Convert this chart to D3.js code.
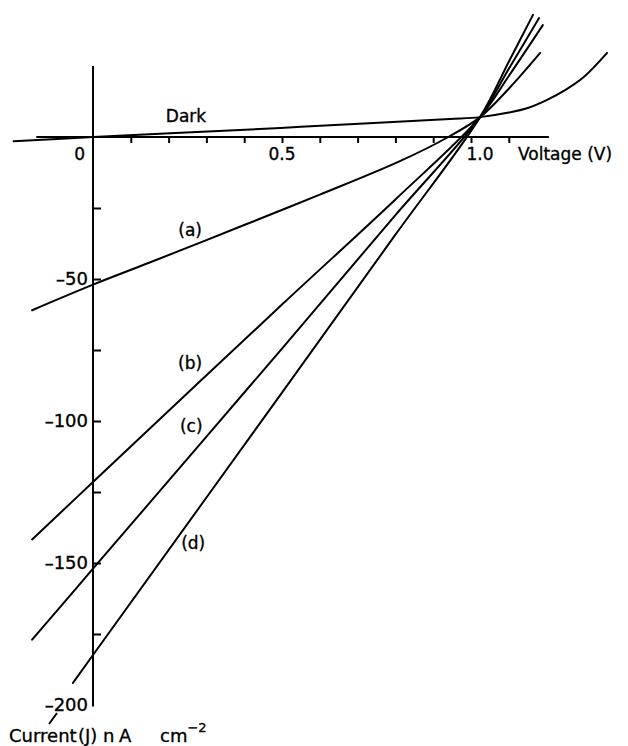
<!DOCTYPE html>
<html>
<head>
<meta charset="utf-8">
<script src="https://cdn.jsdelivr.net/npm/d3@7"></script>
<style>
  html, body { margin: 0; padding: 0; background: #fff; }
  svg text { font-family: "DejaVu Sans", sans-serif; fill: #000; stroke: #000; stroke-width: 0.35; }
  .curve { fill: none; stroke: #000; stroke-width: 2; stroke-linecap: round; }
  .axis-line { stroke: #000; stroke-width: 2; }
  .tick line { stroke: #000; stroke-width: 2; }
</style>
</head>
<body>
<div id="chart"></div>
<script>
// values, voltage in V, current in nA cm^-2
var darkV = [-0.21, 0, 0.44, 0.55, 0.944, 1.024, 1.1, 1.15, 1.2, 1.25, 1.3, 1.36];
var darkJ = [-1.5, 0, 2.8, 3.6, 6.3, 7.0, 8.6, 10.2, 13.0, 16.6, 21.3, 29.6];

var aV = [-0.161, 0, 0.15, 0.4, 0.6, 0.812, 0.94, 1.024, 1.1, 1.183];
var aJ = [-61, -52, -44.2, -31, -20.3, -8.5, 0, 7, 17, 29.6];

var bV = [-0.161, 0, 0.5, 0.8, 1.024, 1.1, 1.19];
var bJ = [-141.7, -121.5, -59, -22, 7, 21.5, 39.4];

var cV = [-0.161, 0, 0.5, 0.8, 1.024, 1.1, 1.18];
var cJ = [-177, -152, -74.5, -27.5, 7, 24, 41.9];

var dV = [-0.053, 0, 0.5, 0.8, 1.024, 1.1, 1.164];
var dJ = [-192.2, -182.4, -90, -34.4, 7, 26.5, 43];

var xTicks = [0.1, 0.2, 0.3, 0.4, 0.5, 0.6, 0.7, 0.8, 0.9, 1.0, 1.1];
var yTicks = [-25, -50, -75, -100, -125, -150, -175];
var yLabels = ["-50", "-100", "-150", "-200"];

var width = 628, height = 746;

var svg = d3.select("#chart").append("svg")
	.attr("width", width)
	.attr("height", height);

// V = 0 sits at x 93, 1 V is 378 px; J = 0 sits at y 137, 200 units is 568 px
var x = d3.scaleLinear().domain([0, 1]).range([93, 471]);
var y = d3.scaleLinear().domain([0, -200]).range([137, 705]);

// axis lines
svg.append("line").attr("class", "axis-line")
	.attr("x1", x(-0.15)).attr("x2", x(1.206))
	.attr("y1", y(0)).attr("y2", y(0));
svg.append("line").attr("class", "axis-line")
	.attr("x1", x(0)).attr("x2", x(0))
	.attr("y1", y(25)).attr("y2", y(-200.5));

// ticks: x pointing down, y pointing right
svg.append("g")
	.attr("transform", "translate(0," + y(0) + ")")
	.call(d3.axisBottom(x).tickValues(xTicks).tickSize(6).tickFormat(""))
	.call(function(g){ g.select(".domain").remove(); });

svg.append("g")
	.attr("transform", "translate(" + x(0) + ",0)")
	.call(d3.axisRight(y).tickValues(yTicks).tickSize(8).tickFormat(""))
	.call(function(g){ g.select(".domain").remove(); });

// tick labels
svg.append("text").attr("x", x(-0.035)).attr("y", 160)
	.attr("text-anchor", "middle").attr("font-size", 17).text("0");
svg.append("text").attr("x", x(0.5)).attr("y", 160)
	.attr("text-anchor", "middle").attr("font-size", 17).text("0.5");
svg.append("text").attr("x", x(1.024)).attr("y", 160)
	.attr("text-anchor", "middle").attr("font-size", 17).text("1.0");
svg.append("text").attr("x", 518).attr("y", 160)
	.attr("font-size", 17).text("Voltage (V)");

svg.selectAll(".ylab")
	.data(yLabels)
	.enter().append("text")
	.attr("class", "ylab")
	.attr("x", 88)
	.attr("y", function(d){ return y(+d); })
	.attr("dy", "0.36em")
	.attr("text-anchor", "end")
	.attr("font-size", 18)
	.text(function(d){ return d.replace("-", "\u2013"); });

// axis title with its little leader stroke
svg.append("line").attr("class", "axis-line")
	.attr("stroke-width", 1.5)
	.attr("x1", 49).attr("y1", 724).attr("x2", 57).attr("y2", 713);
var title = svg.append("text").attr("y", 742).attr("font-size", 18);
title.append("tspan").attr("x", 9).text("Current");
title.append("tspan").attr("x", 78).text("(J)");
title.append("tspan").attr("x", 103).text("n");
title.append("tspan").attr("x", 119).text("A");
title.append("tspan").attr("x", 160).text("cm");
title.append("tspan").attr("dy", -10).attr("font-size", 13).text("\u22122");

// curves
var series = [
	{ name: "Dark", v: darkV, j: darkJ },
	{ name: "(a)", v: aV, j: aJ },
	{ name: "(b)", v: bV, j: bJ },
	{ name: "(c)", v: cV, j: cJ },
	{ name: "(d)", v: dV, j: dJ }
];

var line = d3.line()
	.x(function(p){ return x(p[0]); })
	.y(function(p){ return y(p[1]); })
	.curve(d3.curveCatmullRom.alpha(0.5));

svg.selectAll(".curve")
	.data(series)
	.enter().append("path")
	.attr("class", "curve")
	.attr("d", function(s){ return line(d3.zip(s.v, s.j)); });

// curve labels
var labelAt = { "Dark": [0.246, 7.4], "(a)": [0.257, -32.7], "(b)": [0.257, -79.6], "(c)": [0.26, -101.8], "(d)": [0.265, -143] };
svg.selectAll(".clab")
	.data(series)
	.enter().append("text")
	.attr("class", "clab")
	.attr("x", function(s){ return x(labelAt[s.name][0]); })
	.attr("y", function(s){ return y(labelAt[s.name][1]); })
	.attr("dy", "0.36em")
	.attr("text-anchor", "middle")
	.attr("font-size", 17)
	.text(function(s){ return s.name; });
</script>
</body>
</html>
